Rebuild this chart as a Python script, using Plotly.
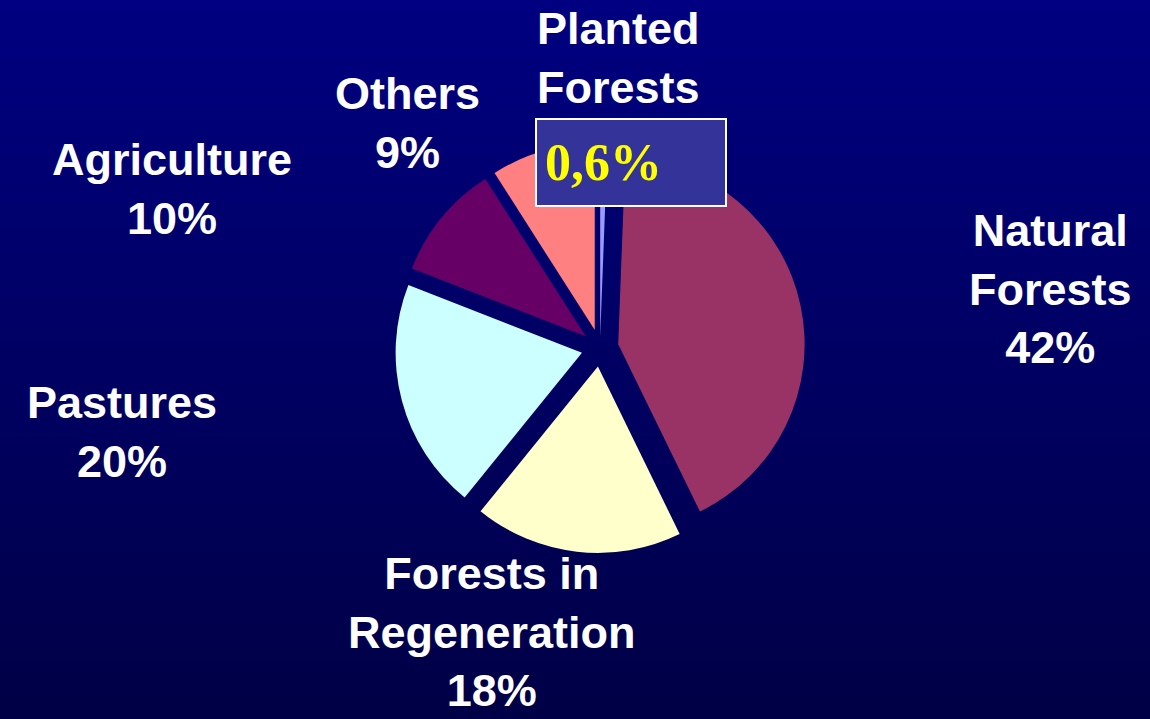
import plotly.graph_objects as go

# ---- data ----
categories = ["Planted Forests", "Natural Forests", "Forests in Regeneration",
              "Pastures", "Agriculture", "Others"]
values = [0.6, 42, 18, 20, 10, 9]
label_texts = ["Planted<br>Forests", "Natural<br>Forests<br>42%",
               "Forests in<br>Regeneration<br>18%", "Pastures<br>20%",
               "Agriculture<br>10%", "Others<br>9%"]
planted_pct_text = "0,6%"

colors = ["#9999FF", "#993366", "#FFFFCC", "#CCFFFF", "#660066", "#FF8080"]

W, H = 1150, 719
cx, cy, half = 600, 348, 205

fig = go.Figure()
fig.add_trace(go.Pie(
    labels=categories,
    values=values,
    sort=False,
    direction="clockwise",
    rotation=0,
    marker=dict(colors=colors, line=dict(width=0)),
    pull=[0.06, 0.1, 0.1, 0.1, 0.1, 0.1],
    textinfo="none",
    hoverinfo="label+percent",
    showlegend=False,
    domain=dict(x=[(cx - half) / W, (cx + half) / W],
                y=[1 - (cy + half) / H, 1 - (cy - half) / H]),
))

# background gradient (top #000080 -> bottom #000046)
shapes = []
n = 60
top_b, bot_b = 128, 70
for i in range(n):
    b = round(top_b + (bot_b - top_b) * (i + 0.5) / n)
    shapes.append(dict(type="rect", xref="paper", yref="paper",
                       x0=0, x1=1, y0=max(0, 1 - (i + 1) / n - 0.002), y1=1 - i / n,
                       fillcolor=f"rgb(0,0,{b})", line=dict(width=0),
                       layer="below"))

# label positions (pixel centres)
label_pos = {
    "Planted Forests": (618, 58),
    "Natural Forests": (1050, 289),
    "Forests in Regeneration": (492, 632),
    "Pastures": (122, 432),
    "Agriculture": (172, 189),
    "Others": (408, 123),
}

annotations = []
for cat, txt in zip(categories, label_texts):
    px, py = label_pos[cat]
    annotations.append(dict(
        x=px / W, y=1 - py / H, xref="paper", yref="paper",
        text=txt, showarrow=False, xanchor="center", yanchor="middle",
        align="center",
        font=dict(family="Liberation Sans, Arial, sans-serif", size=45,
                  color="white", weight="bold"),
    ))

annotations.append(dict(
    x=631 / W, y=1 - 162 / H, xref="paper", yref="paper",
    text=planted_pct_text, showarrow=False, xanchor="center", yanchor="middle",
    align="left", width=172, height=69, borderpad=8,
    bgcolor="#333399", bordercolor="white", borderwidth=2,
    font=dict(family="Liberation Serif, Times New Roman, serif", size=52,
              color="#FFFF00", weight="bold"),
))

fig.update_layout(
    width=W, height=H,
    margin=dict(l=0, r=0, t=0, b=0),
    paper_bgcolor="#000066",
    plot_bgcolor="#000066",
    shapes=shapes,
    annotations=annotations,
)

fig.write_html("out.html",
               config={"displayModeBar": False},
               post_script="document.body.style.margin='0';document.body.style.background='#000046';")
